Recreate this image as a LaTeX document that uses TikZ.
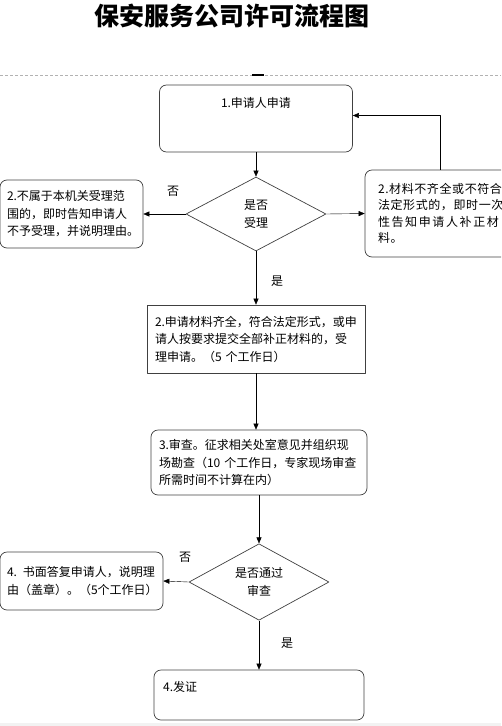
\documentclass[tikz,border=0pt]{standalone}
\usepackage{fontspec}
\newfontfamily\cjk{Noto Sans CJK SC}
\newfontfamily\cjkwide{Noto Sans CJK SC}[LetterSpace=5]
\usetikzlibrary{shapes.geometric,arrows.meta}
\newcommand{\bodyfont}{\cjk\fontsize{12}{17.5}\selectfont}
\tikzset{
	box/.style={draw=black!75, line width=0.7pt, rounded corners=7pt, align=left, inner sep=0pt, font=\bodyfont},
	decide/.style={draw=black!75, line width=0.7pt, diamond, minimum width=140pt, minimum height=74pt, inner sep=0pt, align=center, font=\bodyfont},
	lbl/.style={font=\bodyfont}
}
\begin{document}
\begin{tikzpicture}[x=1pt,y=-1pt,>={Triangle[length=6pt,width=5pt]},line join=round]
			\useasboundingbox (0,0) rectangle (501,726);
			\clip (0,0) rectangle (501,726);
			\fill[gray!10] (0,723) rectangle (501,726);
			\node[font=\cjk\bfseries\fontsize{25}{25}\selectfont] (title) at (232,16) {保安服务公司许可流程图};
			\draw[gray!60, dash pattern=on 3pt off 2pt] (0,75) -- (501,75);
			\draw[line width=1.6pt] (252,75) -- (264,75);
			\node[box, minimum width=193pt, minimum height=67pt] (s1) at (256,118.5) {};
			\node[lbl, below] (t1) at ([yshift=-9pt]s1.north) {1.申请人申请};
			\node[decide] (d1) at (256,214) {是否\\受理};
			\node[box, minimum width=143pt, minimum height=68pt, text width=129pt] (s2a) at (71.5,214) {2.不属于本机关受理范\\围的，即时告知申请人\\不予受理，并说明理由。};
			\node[box, font=\cjkwide\fontsize{12}{16.5}\selectfont, minimum width=166pt, minimum height=87pt, text width=140pt] (s2b) at (448,213.5) {2.材料不齐全或不符合\\法定形式的，即时一次\\\makebox[121pt][s]{性\hfill 告\hfill 知\hfill 申\hfill 请\hfill 人\hfill 补\hfill 正\hfill 材}\\料。};
			\node[box, sharp corners, minimum width=218pt, minimum height=68pt, text width=202pt] (s3) at (256,339) {2.申请材料齐全，符合法定形式，或申\\请人按要求提交全部补正材料的，受\\理申请。（5 个工作日）};
			\node[box, minimum width=216pt, minimum height=65pt, text width=200pt] (s4) at (259,462.5) {3.审查。征求相关处室意见并组织现\\场勘查（10 个工作日，专家现场审查\\所需时间不计算在内）};
			\node[decide] (d2) at (259,582) {是否通过\\审查};
			\node[box, minimum width=163pt, minimum height=58pt, text width=149pt] (s5a) at (81.5,581) {4. 书面答复申请人，说明理\\由（盖章）。（5个工作日）};
			\node[box, minimum width=210pt, minimum height=50pt] (s5b) at (259,695) {};
			\node[lbl, anchor=north west] (t5) at ([xshift=6pt,yshift=-8pt]s5b.north west) {4.发证};
			\draw[->] (s1.south) -- (d1.north);
			\draw[->] (d1.west) -- (s2a.east);
			\node[lbl] (n1) at (173,191) {否};
			\draw[->] (d1.east) -- (s2b.west);
			\draw[->] (s2b.north) ++(-8,0) coordinate (up) |- ([yshift=3pt]s1.east);
			\draw[->] (d1.south) -- (s3.north);
			\node[lbl] (y1) at (277,281) {是};
			\draw[->] (s3.south) -- (s3.south |- s4.north);
			\draw[->] (s4.south) -- (d2.north);
			\draw[->] (d2.west) -- (s5a.east);
			\node[lbl] (n2) at (185,557) {否};
			\draw[->] (d2.south) -- (s5b.north);
			\node[lbl] (y2) at (287,643) {是};
		\end{tikzpicture}
\end{document}
